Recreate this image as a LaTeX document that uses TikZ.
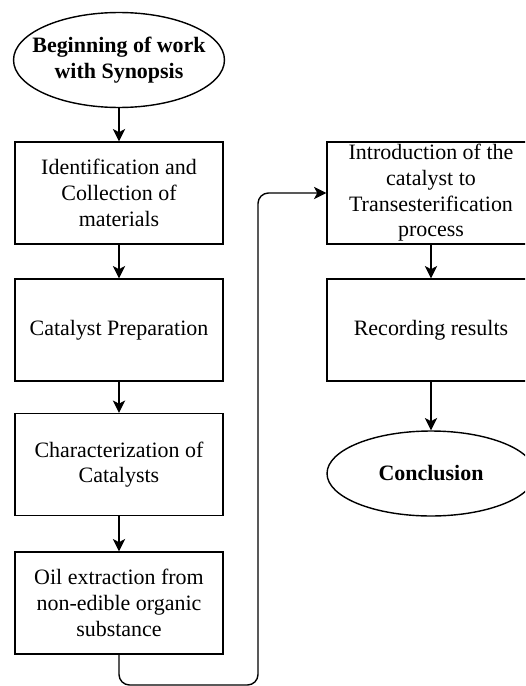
\documentclass[tikz,border=0pt]{standalone}
\usepackage{fontspec}
\setmainfont{Liberation Serif}
\usetikzlibrary{shapes.geometric,arrows.meta}

\tikzset{
  txt/.style={font=\fontsize{12.5}{14.6}\selectfont,align=center,inner sep=0pt},
  stepbox/.style={txt,draw,line width=0.8pt,minimum width=4.16cm,minimum height=2.04cm},
  term/.style={txt,draw,ellipse,line width=0.8pt,inner xsep=-8pt,inner ysep=-2pt,font=\fontsize{12.5}{14.6}\selectfont\bfseries},
  arr/.style={line width=0.8pt,-{Stealth[length=7pt,width=7pt,inset=1.8pt]}}
}

\begin{document}
\begin{tikzpicture}[x=0.02cm,y=-0.02cm]
\clip (0,0) rectangle (525,686);

% Левая колонка
\node[term,minimum width=4.22cm,minimum height=1.9cm] (start) at (119,60) {Beginning of work\\with Synopsis};
\node[stepbox] (ident) at (119,193) {Identification and\\Collection of\\materials};
\node[stepbox] (prep) at (119,330) {Catalyst Preparation};
\node[stepbox] (charact) at (119,464.5) {Characterization of\\Catalysts};
\node[stepbox] (oil) at (119,603) {Oil extraction from\\non-edible organic\\substance};

% Правая колонка
\node[stepbox] (intro) at (431,193) {Introduction of the\\catalyst to\\Transesterification\\process};
\node[stepbox] (record) at (431,330) {Recording results};
\node[term,minimum width=4.16cm,minimum height=1.7cm] (concl) at (431,473.5) {Conclusion};

% Стрелки
\foreach \a/\b in {start/ident,ident/prep,prep/charact,charact/oil,intro/record,record/concl}
    \draw[arr] (\a) -- (\b);

% Переход между колонками
\coordinate (bend) at (258,685);
\draw[arr,rounded corners=6pt] (oil.south) |- (bend) |- (intro.west);
\end{tikzpicture}
\end{document}
